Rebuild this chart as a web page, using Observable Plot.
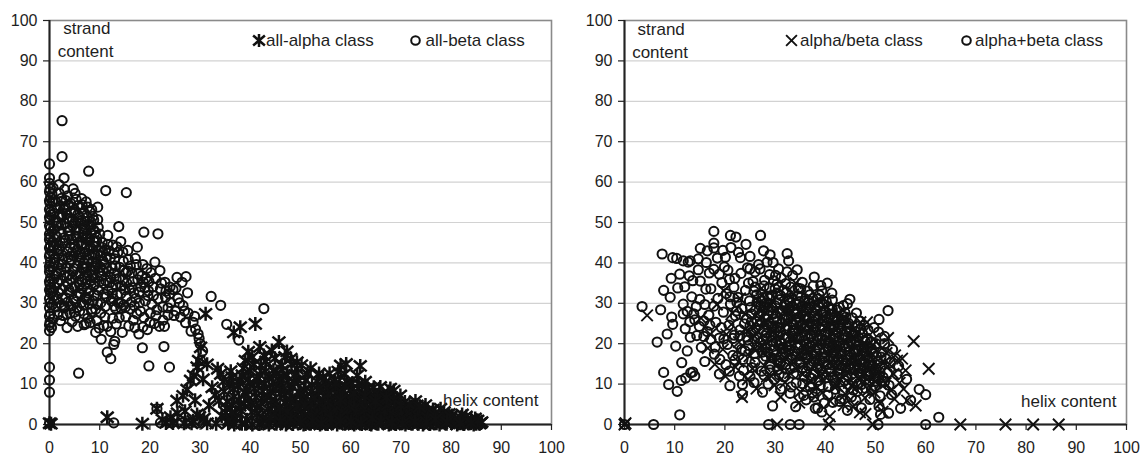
<!DOCTYPE html>
<html>
<head>
<meta charset="utf-8">
<script src="https://cdn.jsdelivr.net/npm/d3@7"></script>
<script src="https://cdn.jsdelivr.net/npm/@observablehq/plot@0.6"></script>
<style>
  html, body { margin: 0; padding: 0; background: #fff; }
  #wrap { display: flex; width: 1142px; height: 456px; }
  #wrap svg { display: block; }
</style>
</head>
<body>
<div id="wrap"></div>
<script>
// ---------- tick labels ----------
const xTicks = [0, 10, 20, 30, 40, 50, 60, 70, 80, 90, 100];
const yTicks = [0, 10, 20, 30, 40, 50, 60, 70, 80, 90, 100];

// ---------- text ----------
const yTitle = ["strand", "content"];
const xTitle = "helix content";
const leftLegend = ["all-alpha class", "all-beta class"];
const rightLegend = ["alpha/beta class", "alpha+beta class"];

// ---------- left panel: all-alpha class (helix %, strand %) ----------
const allAlpha = [
[0,0.3],[0.3,0.2],[11.5,1.8],[18.5,0.2],[21.4,3.9],[24.1,1.8],[24.6,0.4],[25.4,5.9],[26.6,7.1],[28.1,10.9],
[28.7,12.1],[29.4,14.2],[29.7,15.8],[30.1,19.1],[29.4,2.5],[29.9,1.9],[31.1,27.4],[32.4,9.2],[34.1,12.5],[36.4,11.7],
[36.7,22.8],[38.0,24.1],[41.0,24.9],[39.0,15.8],[40.4,16.7],[42.7,17.1],[45.7,20.4],[47.3,18.1],[46.3,14.6],[49.3,15.4],
[49.3,13.8],[58.0,14.6],[61.3,12.1],[59.3,10.5],[55.0,10.5],[66.3,7.6],[68.6,8.4],[73.2,4.7],[71.3,3.5],[77.5,1.8],
[80.2,2.2],[84.0,1.3],[85.9,0.4],[35.1,3.0],[26.8,0.3],[28.3,0.3],[31.4,0.3],[33.2,0.2],[35.6,0.3],
[34.8,8.2],[35.4,5.7],[35.2,4.0],[36.8,6.9],[37.5,9.6],[38.2,3.4],[38.9,7.8],[39.6,11.2],[40.1,5.1],[40.8,8.9],
[41.4,2.6],[41.9,12.3],[42.3,6.4],[42.9,10.1],[43.5,3.8],[44.0,8.1],[44.6,13.4],[45.1,5.7],[45.7,10.8],[46.2,2.9],
[46.8,7.4],[47.3,12.2],[47.9,4.6],[48.4,9.3],[49.0,6.1],[49.6,11.0],[50.1,3.2],[50.7,8.6],[37.1,1.5],[39.3,1.2],
[42.6,1.7],[44.8,1.1],[47.4,1.6],[36.1,13.2],[38.6,13.9],[40.7,14.8],[43.1,15.6],[44.9,16.4],[41.6,9.7],[39.9,10.2],
[46.1,9.1],[48.7,10.4],[43.7,11.7],[37.9,11.0],
[51.2,6.9],[51.8,4.3],[52.3,9.8],[52.9,2.7],[53.4,7.3],[54.0,5.1],[54.5,11.8],[55.1,3.6],[55.6,8.1],[56.2,6.0],
[56.7,2.1],[57.3,9.2],[57.8,4.8],[58.4,7.0],[58.9,3.0],[59.5,5.9],[60.0,8.6],[60.6,2.4],[61.1,6.7],[61.7,4.1],
[62.2,9.7],[62.8,3.3],[63.3,6.2],[63.9,1.8],[64.4,5.4],[65.0,3.1],[65.5,7.2],[66.1,2.5],[66.6,4.6],[67.2,1.4],
[67.7,5.8],[68.3,3.0],[68.8,1.2],[69.4,4.4],[70.0,2.1],[51.5,1.2],[53.1,0.8],[54.8,1.5],[56.4,0.9],[58.1,1.4],
[59.7,0.7],[61.4,1.2],[63.0,0.6],[64.7,1.1],[66.3,0.5],[52.6,5.5],[54.3,2.9],[55.9,4.2],[57.5,2.6],[59.2,4.0],
[60.8,5.1],[62.5,2.2],[64.1,3.6],[65.8,2.0],[53.7,12.6],[56.9,11.0],[60.3,10.2],[63.6,8.3],[50.2,14.7],[48.1,16.3],
[52.0,13.9],[58.8,12.5],[62.0,7.1],[57.0,7.8],[55.3,9.6],
[70.6,3.3],[71.3,1.5],[71.9,0.6],[72.5,2.8],[73.1,1.1],[73.8,3.6],[74.4,0.8],[75.0,2.4],[75.6,1.3],[76.3,0.5],
[76.9,2.9],[77.5,1.0],[78.1,2.0],[78.8,0.6],[79.4,1.5],[80.0,0.4],[80.6,1.2],[81.3,0.3],[81.9,1.7],[82.5,0.6],
[83.1,1.1],[83.8,0.3],[84.4,0.7],[85.0,0.2],[72.0,4.3],[74.9,4.8],[76.4,3.7],[78.6,3.1],[69.2,6.5],[67.4,7.8],[70.8,5.6],
[36.8,0],[38.3,0.2],[40.4,0],[41.8,0.1],[43.7,0],[45.2,0.2],[47.1,0],[48.5,0.1],[50.6,0],[52.0,0.2],
[53.9,0],[55.4,0.1],[57.3,0],[58.8,0.2],[60.7,0],[62.2,0.1],[64.1,0],[65.5,0.2],[67.6,0],[69.0,0.1],
[70.9,0],[72.3,0.2],[74.4,0],[75.8,0.1],[77.7,0],[79.1,0.2],[81.2,0],[82.6,0.1],[84.5,0],[85.7,0.2],
[44.3,4.7],[45.6,2.2],[46.9,5.3],[47.7,0.9],[48.2,3.6],[49.4,1.7],[49.9,5.0],[50.8,2.3],[51.3,0.5],[51.9,3.0],
[52.4,1.6],[53.0,4.2],[53.5,0.4],[54.1,3.4],[54.6,5.8],[55.2,1.9],[55.7,0.6],[56.0,3.3],[56.6,5.1],[57.1,1.2],
[57.6,3.9],[58.2,0.5],[58.6,2.3],[59.1,5.4],[59.6,1.8],[60.2,3.6],[60.4,0.3],[61.0,1.5],[61.5,4.6],[62.0,0.9],
[62.4,3.0],[63.0,5.0],[63.5,2.6],[64.0,0.4],[64.5,2.1],[65.1,4.3],[65.6,1.0],[66.0,3.4],[66.7,5.5],[67.0,2.2],
[67.5,0.6],[68.1,3.9],[68.5,1.8],[69.1,2.9],[69.6,0.5],[70.2,3.9],[70.5,1.2],[71.0,2.4],[71.6,0.4],[72.2,1.9],
[60.9,6.9],[58.5,8.3],[54.9,6.8],[52.1,8.1],[63.9,7.0],[66.9,6.3],[59.9,6.2],[56.8,9.4],[53.3,10.7],[51.0,10.9],
[50.4,6.1],[62.9,10.6],[61.9,14.5],[59.1,15.0],[64.6,9.2],[57.5,13.1],[55.8,12.6],[67.9,8.9],[69.9,7.2],[72.9,5.8],
[74.1,2.0],[75.3,3.4],[76.1,1.7],[77.1,0.3],[77.9,3.9],[79.6,2.6],[80.8,0.8],[82.2,2.5],[83.4,0.4],[84.8,1.5],
[86.1,0.6],[73.5,0.2],[68.0,0.2],[63.8,0.1],[59.0,0.3],[55.0,0.2],[51.0,0.1],[46.3,0.3],[42.2,0.3],[39.0,0.2],
[33.8,5.9],[34.3,2.1],[35.9,10.1],[36.3,4.8],[37.0,2.9],[37.7,6.0],[38.8,5.2],[39.4,8.6],[40.3,3.1],[41.1,6.8],
[41.3,11.1],[42.0,4.5],[42.5,8.2],[43.2,1.2],[43.0,13.1],[44.2,6.0],[44.5,10.5],[45.4,3.9],[45.2,12.6],[45.9,7.6],
[46.5,11.8],[47.1,5.4],[47.8,8.0],[48.3,2.0],[48.9,12.3],[38.4,12.2],[36.6,8.8],[35.7,1.1],[34.6,10.6],[40.0,13.3],
[42.1,14.7],[46.9,16.7],[44.3,18.3],[48.2,14.9],[41.9,19.2],[39.6,18.0],[33.5,13.8],[31.4,14.9],[30.6,11.2],[31.8,4.7],
[33.0,7.3],[27.4,8.6],[29.0,6.0],[27.0,3.3],[25.5,2.8],[28.6,0.9],[30.8,1.5],[23.2,0.4],[22.5,1.2],
[44.9,2.8],[45.9,4.1],[46.5,1.4],[47.4,3.2],[48.0,5.6],[48.8,0.7],[49.3,4.4],[50.3,1.3],[50.9,4.8],[51.6,2.2],
[52.2,5.0],[52.7,0.6],[53.3,2.2],[53.8,5.4],[54.4,1.2],[54.9,3.8],[55.5,5.6],[55.9,2.1],[56.3,0.3],[56.9,3.9],
[57.4,1.7],[57.9,5.7],[58.3,3.2],[58.8,1.0],[59.3,3.4],[59.8,4.9],[60.3,1.1],[60.7,4.2],[61.2,2.9],[61.6,0.6],
[62.1,5.4],[62.6,1.6],[63.1,3.8],[63.6,0.9],[64.2,4.6],[64.6,2.8],[65.2,0.6],[65.7,5.1],[66.2,1.6],[66.8,3.0],
[67.3,4.8],[67.8,1.2],[68.4,2.6],[68.9,4.9],[69.5,1.5],[70.1,3.1],[70.7,0.8],[71.4,2.9],[72.0,1.3],[72.7,3.7],
[73.4,2.1],[74.0,0.6],[74.7,3.1],[75.4,1.7],[76.7,2.3],[78.3,1.4],[79.9,2.0],[81.6,1.0],[83.0,2.0],[85.3,1.0],
[45.0,8.7],[47.6,9.8],[50.0,7.6],[52.8,6.6],[55.4,7.5],[58.0,6.1],[60.6,7.7],[63.2,8.8],[65.3,6.3],[68.7,6.0],
[43.4,6.8],[41.4,4.3],[39.6,6.3],[37.9,4.6],[36.3,2.9],[46.4,13.4],[51.4,12.5],[54.0,9.0],[61.6,10.0],[65.9,9.3],
[49.6,8.1],[53.6,8.7],[57.0,10.2],[58.9,9.6],[62.8,7.0],[64.9,5.8],[67.1,6.7],[70.0,4.8],[71.7,5.0],[73.7,4.4],
[44.0,1.7],[46.0,0.8],[48.0,1.4],[50.0,0.5],[52.4,0.9],[54.2,0.3],[56.1,1.5],[58.0,0.9],[60.1,0.8],[62.1,0.3],
[64.3,1.5],[66.0,0.8],[68.2,0.5],[70.3,0.3],[72.8,0.7],[75.1,0.6],[76.9,1.3],[79.2,0.6],[81.8,0.3],[84.0,0.4]
];

// ---------- left panel: all-beta class ----------
const allBeta = [
[0,23.2],[0,24.6],[0.1,25.3],[0,26.8],[0.2,27.4],[0,28.9],[0.1,30.1],[0,31.2],[0.2,32.6],[0,33.3],
[0.1,34.7],[0,35.4],[0.2,36.2],[0,37.8],[0.1,38.4],[0,39.1],[0.2,40.3],[0,41.6],[0.1,42.2],[0,43.7],
[0.2,44.3],[0,45.8],[0.1,46.4],[0,47.1],[0.2,48.6],[0,49.2],[0.1,50.7],[0,51.3],[0.2,52.6],[0,53.2],
[0.1,54.8],[0,55.4],[0.2,56.1],[0,57.6],[0.1,58.3],[0,59.7],[0,61.0],[0,64.5],[0,14.2],[0,11.0],[0,8.0],[0,0.3],
[2.5,75.2],[2.5,66.3],[2.9,61.0],[7.8,62.7],[1.9,59.4],[4.7,58.3],[11.2,57.9],[15.3,57.4],[3.6,56.6],[5.1,57.2],
[6.4,55.9],[7.3,55.1],[9.6,53.8],[8.4,53.2],
[1.2,55.2],[2.1,54.1],[2.8,53.4],[3.4,52.2],[4.2,54.8],[4.9,53.1],[5.6,51.9],[6.2,53.6],[6.9,52.4],[7.5,51.3],
[8.1,52.7],[8.8,50.6],[9.6,50.7],[2.4,51.3],[3.1,49.7],[3.9,50.8],[4.6,49.2],[5.3,48.1],[6.1,49.8],[6.8,48.4],
[7.4,47.2],[8.2,48.9],[9.1,47.6],[1.5,49.1],[2.2,47.6],[2.9,46.2],[3.7,47.9],[4.4,45.8],[5.2,46.7],[5.9,45.1],
[6.6,46.3],[7.3,44.6],[8.0,45.9],[8.7,44.2],[9.4,45.4],[1.3,44.7],[2.0,43.5],[2.7,44.9],[3.5,42.8],[4.1,43.9],
[4.8,41.7],[5.5,43.2],[6.3,41.4],[7.0,42.6],[7.8,40.8],[8.5,42.1],[9.3,40.3],[10.1,41.8],[1.1,41.2],[1.9,39.6],
[2.6,40.8],[3.3,38.7],[4.0,39.9],[4.7,37.9],[5.4,39.2],[6.1,37.4],[6.8,38.6],[7.6,36.8],[8.3,38.1],[9.0,36.2],
[9.8,37.7],[1.4,37.3],[2.2,35.8],[2.9,36.9],[3.6,34.9],[4.3,35.9],[5.0,34.1],[5.8,35.3],[6.5,33.6],[7.2,34.8],
[8.0,33.1],[8.8,34.4],[1.0,34.0],[1.8,32.6],[2.5,33.5],[3.2,31.4],[4.0,32.7],[4.8,30.9],[5.6,31.8],[6.4,30.2],
[7.1,31.5],[7.9,29.8],[8.7,30.6],[9.5,31.9],[2.0,30.1],[3.0,29.2],[2.9,28.8],[1.7,27.2],[4.1,27.6],[5.2,26.8],
[6.0,28.1],[6.9,27.4],[7.6,26.3],[8.4,27.9],[9.2,28.5],
[2.2,25.7],[3.5,24.0],[4.5,25.4],[5.6,24.3],[6.9,24.7],[8.1,25.2],[9.5,25.7],[9.2,22.8],[10.8,24.5],[11.5,24.3],
[12.2,23.0],[13.3,24.9],[14.5,22.8],[15.8,24.4],[16.7,25.8],[17.8,22.4],[18.6,24.1],[19.5,23.5],[10.3,21.1],[13.0,20.6],
[18.5,19.0],[19.8,14.5],[22.8,19.3],[23.9,14.2],[11.5,17.9],[12.2,16.3],[12.8,19.8],[5.8,12.7],
[10.5,45.1],[11.1,43.2],[11.6,46.8],[12.1,41.2],[12.6,44.4],[13.1,39.3],[13.6,42.6],[13.8,49.0],[14.2,45.3],[14.7,40.4],
[15.2,37.6],[15.6,43.1],[16.1,39.2],[16.6,35.4],[17.1,41.1],[17.5,43.9],[17.7,37.3],[18.2,34.1],[18.8,47.6],[18.6,39.6],
[19.2,36.2],[19.7,33.1],[20.2,37.6],[10.6,38.1],[11.2,35.6],[11.7,33.2],[12.2,36.4],[12.7,31.1],[13.2,34.6],[13.7,30.2],
[14.2,32.4],[14.8,29.6],[15.3,31.7],[10.2,30.1],[11.1,29.2],[12.3,30.6],[13.2,28.7],[14.1,30.1],[16.1,28.6],[17.2,31.2],
[18.1,28.1],[19.1,30.6],[20.1,27.6],[9.7,33.3],[10.9,39.7],[12.9,37.4],[15.9,33.5],[17.6,35.8],[19.4,38.6],[16.3,30.3],[14.6,35.8],
[20.6,34.1],[21.1,36.2],[21.6,31.1],[21.6,47.2],[22.1,33.6],[22.6,29.1],[23.1,31.5],[23.6,27.1],[24.1,30.2],[24.6,33.4],
[25.1,28.1],[25.6,31.2],[26.1,26.6],[26.6,29.4],[27.1,25.2],[27.6,27.6],[28.6,25.3],[29.1,23.6],[29.6,22.4],[30.0,20.0],
[30.1,15.8],[25.4,36.4],[27.2,36.6],[26.4,35.2],[27.5,32.6],[24.0,34.0],[23.0,35.2],[22.0,38.1],[21.0,40.2],[32.2,31.7],
[34.1,29.5],[35.3,24.8],[37.7,20.9],[42.7,28.7],[30.5,18.2],[29.8,21.3],[28.2,23.1],[24.8,27.0],[22.6,25.8],[21.2,26.9],[20.4,29.8],
[21.4,3.9],[12.8,0.4],[22.1,0.4],[24.4,0.4],[26.4,0.4],[29.5,0.4],
[0.4,24.0],[0.5,29.6],[0.3,33.9],[0.6,38.9],[0.4,42.9],[0.5,47.8],[0.3,51.9],[0.6,55.1],[0.5,57.0],[0.7,26.1],
[0.8,31.8],[0.9,36.0],[1.0,40.0],[0.8,44.0],[1.0,48.4],[0.9,52.2],[0.7,58.6],[1.3,29.1],[1.6,35.1],[1.5,43.0],
[1.4,46.5],[1.2,50.6],[1.6,53.5],[1.9,57.3],[2.4,56.0],[2.3,49.4],[2.1,45.2],[2.4,42.0],[2.3,38.1],[2.6,31.3],
[2.7,27.0],[3.0,58.2],[3.3,55.4],[3.8,54.0],[3.5,51.1],[3.2,45.6],[3.7,41.4],[3.4,36.6],[3.9,33.3],[3.6,30.3],
[4.3,52.4],[4.6,50.6],[4.1,48.0],[4.8,44.6],[4.4,40.8],[4.9,38.6],[4.5,33.9],[4.3,29.3],[5.3,55.7],[5.0,52.6],
[5.7,50.0],[5.4,46.3],[5.1,44.0],[5.8,40.6],[5.3,37.0],[5.9,32.6],[5.5,29.0],[6.5,54.4],[6.0,51.3],[6.7,47.3],
[6.3,44.4],[6.0,42.2],[6.9,39.9],[6.4,35.9],[6.2,32.1],[6.8,29.6],[7.6,53.8],[7.1,50.2],[7.8,49.5],[7.3,45.8],
[7.9,43.2],[7.5,39.1],[7.2,37.7],[7.8,32.5],[7.4,30.9],[8.6,51.5],[8.3,47.2],[8.9,45.2],[8.5,40.3],[8.2,35.6],
[8.9,32.0],[8.4,28.6],[9.7,48.8],[9.4,46.3],[9.8,42.9],[9.1,38.8],[9.9,35.3],[9.6,29.9],[10.4,43.9],[10.7,40.4],
[10.3,36.7],[10.9,32.3],[10.2,27.6],[11.6,44.6],[11.4,41.5],[11.8,37.9],[11.3,31.6],[12.8,42.3],[12.5,38.7],[12.4,33.9],
[12.9,29.3],[13.4,44.0],[13.9,36.2],[13.5,32.0],[14.6,42.7],[14.9,38.2],[14.4,34.3],[15.7,40.8],[15.4,35.0],[15.1,29.0],
[16.4,37.5],[16.8,32.6],[17.3,39.6],[17.9,32.8],[18.4,36.8],[19.0,33.8],[19.8,35.4],[20.7,31.9],[18.8,26.5],[17.4,27.4],
[15.2,26.7],[12.6,26.3],[11.0,26.6],[20.9,25.0],[22.9,24.3],[23.6,28.9],[25.9,30.1],[26.9,28.1],[28.9,26.8],[23.2,33.0],
[0.6,45.2],[1.1,47.0],[1.7,50.0],[2.1,52.0],[2.5,55.3],[3.1,53.9],[3.6,48.9],[4.0,46.6],[4.5,42.6],[4.0,37.1],
[3.1,34.2],[2.5,39.6],[1.7,42.2],[1.2,36.8],[0.6,32.9],[1.5,31.0],[2.4,29.6],[3.4,27.3],[5.0,49.8],[5.6,54.2],
[6.3,50.5],[6.6,44.5],[5.7,41.7],[6.5,39.0],[6.0,34.5],[5.2,30.4],[7.1,48.9],[7.5,46.3],[7.9,41.9],[7.0,36.2],
[7.5,33.7],[8.3,50.1],[8.8,48.2],[8.1,43.8],[8.9,39.2],[8.5,37.1],[9.3,44.0],[9.0,42.0],[9.5,39.4],[9.1,34.8],
[10.0,47.1],[10.6,42.6],[10.1,39.0],[10.8,34.9],[11.3,38.8],[11.9,43.0],[12.0,35.1],[12.5,32.4],[13.0,41.0],[13.3,36.0],
[14.0,38.9],[14.2,28.9],[15.0,33.3],[15.6,38.0],[16.4,33.9],[16.9,29.4],[17.9,30.1],[18.7,35.2],[19.6,31.9],[21.4,28.4],
[22.3,35.0],[23.9,32.3],[25.2,33.8],[21.9,24.3],[20.0,25.3],[17.0,24.0],[13.9,26.4],[9.9,23.9],[7.3,25.0],[4.9,27.8]
];

// ---------- right panel: alpha/beta class ----------
const alphaBeta = [
[0,0],[0.2,0.3],[4.5,27.0],[20.1,11.9],[23.4,6.8],[22.1,14.2],[22.7,15.5],[27.9,14.5],[29.2,12.0],[30.4,0],
[31.1,6.8],[34.1,35.0],[37.0,10.9],[38.4,9.2],[40.7,0],[40.9,2.0],[48.0,2.6],[48.3,25.3],[47.0,25.3],[49.7,21.2],
[57.6,20.6],[53.9,17.1],[54.3,15.8],[55.3,16.3],[53.6,12.5],[60.6,13.8],[56.3,5.9],[58.0,4.7],[49.5,0],[66.9,0],
[75.9,0],[81.4,0],[86.5,0],
[15.2,26.4],[17.1,22.3],[18.4,29.7],[19.6,18.6],[21.3,24.8],[22.8,20.4],[24.1,27.3],[24.9,16.9],[25.7,22.1],[26.5,30.8],
[27.2,19.4],[28.0,25.6],[28.8,16.2],[29.6,22.9],[30.3,28.4],[31.0,13.8],[31.8,19.6],[32.5,25.1],[33.3,15.7],[34.0,21.3],
[34.8,27.9],[35.5,12.4],[36.3,18.1],[37.0,23.7],[37.8,14.6],[38.5,20.2],[39.3,26.3],[40.0,11.8],[40.8,17.4],[41.5,22.6],
[42.3,9.6],[43.0,15.3],[43.8,20.8],[44.5,12.7],[45.3,18.5],[46.0,8.9],[46.8,14.2],[47.5,19.7],[48.3,11.3],[49.0,16.6],
[49.8,7.9],[50.5,13.1],[51.3,18.9],[52.0,10.2],[52.8,14.9],[32.0,10.4],[35.0,8.1],[38.0,6.9],[41.0,5.8],[44.0,7.5],
[45.5,4.4],[33.6,32.2],[36.6,29.6],[39.8,31.1],[42.6,27.4],[45.1,24.6],[27.3,33.7],[24.6,11.2],[26.3,8.9],[29.9,9.7],
[19.8,33.1],[23.0,31.2],[37.4,16.1],[41.9,13.6],[44.7,10.3],[47.9,6.6],[50.9,5.2],
[18.0,14.9],[21.5,27.6],[24.0,23.6],[25.5,13.8],[26.9,26.1],[28.4,11.9],[29.4,30.4],[30.7,18.0],[32.1,22.5],[33.0,12.7],
[34.6,17.1],[35.9,25.3],[36.9,13.2],[37.9,28.8],[38.9,12.0],[39.9,24.0],[40.9,15.4],[42.0,20.2],[42.9,11.2],[43.9,24.6],
[44.8,15.9],[45.7,21.4],[46.5,11.4],[47.4,16.9],[48.6,8.6],[49.3,19.5],[50.0,10.6],[51.7,15.3],[52.5,21.4],[53.1,8.4],
[54.8,10.3],[56.0,13.4],[51.4,3.2],[46.9,3.0],[43.7,4.8],[39.4,7.9],[34.8,5.4],[31.8,15.8],[27.7,17.6],[22.5,18.4],
[20.3,22.3],[16.6,18.9],
[25.9,18.7],[27.6,29.1],[29.1,23.7],[30.5,14.9],[31.9,27.5],[33.4,19.4],[34.2,13.9],[35.3,23.2],[36.4,9.7],[37.3,18.6],
[38.7,25.7],[39.7,14.0],[40.6,21.2],[41.8,9.3],[42.6,18.0],[43.4,26.1],[44.3,14.1],[45.2,9.5],[46.3,22.7],[47.1,13.5],
[48.8,17.9],[49.8,13.9],[51.0,10.1],[52.2,17.7],[53.8,6.3],[55.6,8.8],[45.9,16.7],[41.3,18.6],[36.0,15.1],[32.9,17.3]
];

// ---------- right panel: alpha+beta class ----------
const alphaPlusBeta = [
[3.5,29.2],[6.5,20.4],[7.5,42.2],[7.8,33.2],[9.1,31.5],[7.2,28.4],[9.4,26.6],[9.6,24.8],[7.8,12.9],[8.8,9.9],
[10.5,8.2],[11.3,10.9],[12.2,11.5],[13.2,12.8],[11.0,2.4],[5.8,0],[0,0],[10.6,33.8],[12.0,34.1],[11.7,29.8],
[11.7,27.4],[12.5,28.0],[12.5,18.2],[13.1,21.6],[13.6,13.0],[14.0,12.0],[9.6,41.3],[10.4,41.1],[11.7,40.5],[12.7,40.2],
[13.1,40.5],[14.7,41.0],[15.1,43.6],[17.8,47.8],[17.8,44.9],[17.8,43.7],[21.1,46.8],[22.2,46.4],[27.1,46.8],[22.7,42.6],
[25.0,41.6],[27.7,43.0],[29.0,42.0],[32.4,42.3],[32.7,40.5],[40.4,35.0],[44.4,29.9],[52.5,28.2],[51.8,21.8],[51.8,20.0],
[60.0,7.4],[57.0,6.0],[62.6,1.8],[60.0,0],[52.6,2.8],[50.7,4.5],[51.0,2.5],[50.5,0],[33.0,0],[34.8,0],
[28.7,0],[39.8,5.3],[38.5,4.1],[35.7,7.2],[37.7,6.8],[33.0,7.7],[45.6,8.5],[48.0,9.0],[50.0,9.5],[52.7,9.7],
[27.5,8.0],[28.6,10.0],[29.8,11.2],[30.8,12.3],[23.5,9.9],[23.5,7.5],[20.9,13.2],[22.9,12.0],[17.9,17.4],[19.0,16.1],
[20.2,14.8],[15.8,25.6],[16.5,23.0],[17.2,21.1],[18.1,19.2],[15.1,35.5],[16.9,37.5],[17.8,38.4],[18.9,37.2],[19.9,39.0],
[30.4,34.8],[36.0,31.1],[28.0,22.0],[28.5,18.0],[38.0,4.0],[40.5,7.3],[41.5,5.5],[13.4,31.6],[14.3,29.2],[14.0,25.9],[12.1,23.7],
[17.2,33.6],[18.6,31.2],[19.4,35.1],[20.3,32.4],[21.1,29.8],[21.8,34.0],[22.6,31.5],[23.4,28.7],[24.1,33.2],[24.9,30.6],
[25.6,35.4],[26.3,32.1],[27.1,29.4],[27.8,34.3],[28.5,31.8],[29.3,29.1],[30.0,33.6],[30.8,30.9],[31.5,28.2],[32.3,32.7],
[33.0,30.1],[33.8,27.5],[34.5,31.9],[35.3,29.2],[36.1,26.8],[26.0,37.8],[28.9,37.1],[31.2,36.3],[23.2,37.4],[20.6,38.2],
[16.8,27.1],[18.2,25.3],[19.7,27.8],[20.8,24.6],[22.1,26.9],[23.0,23.4],[24.3,26.2],[25.2,22.7],[26.4,25.5],[27.4,27.9],
[28.3,24.8],[29.2,21.9],[30.1,26.7],[30.9,23.9],[31.8,21.3],[32.6,26.0],[33.5,23.2],[34.3,27.4],[35.1,24.6],[36.0,22.0],
[36.8,26.3],[37.6,23.5],[38.5,21.1],[39.3,25.6],[40.1,22.8],[41.0,27.3],[41.8,24.2],[42.7,21.6],[43.5,25.9],[44.3,23.0],
[45.2,20.6],[38.2,28.6],[40.6,29.2],[42.4,28.3],[37.1,29.9],
[18.9,21.4],[20.5,19.8],[21.9,22.1],[23.3,18.6],[24.6,20.9],[25.9,17.6],[27.0,20.3],[28.1,16.9],[29.1,19.5],[30.2,17.2],
[31.3,20.0],[32.1,17.8],[33.0,20.6],[33.9,18.1],[34.8,21.4],[35.7,18.6],[36.5,16.3],[37.4,20.2],[38.3,17.5],[39.2,19.9],
[40.0,16.8],[40.9,20.5],[41.8,17.9],[42.6,15.9],[43.5,19.6],[44.4,17.1],[45.2,15.2],[46.1,18.4],[47.0,16.0],[47.8,19.2],
[48.7,14.8],[49.6,17.5],[50.4,15.6],[51.3,17.9],
[25.4,14.1],[27.3,13.2],[29.0,15.0],[30.6,13.6],[32.2,14.8],[33.7,12.6],[35.0,15.5],[36.2,13.1],[37.3,11.4],[38.4,14.3],
[39.5,12.2],[40.6,14.9],[41.6,11.6],[42.7,13.4],[43.8,10.9],[44.9,13.8],[45.9,11.5],[46.9,13.9],[47.9,11.1],[48.9,13.2],
[49.9,11.8],[50.9,12.9],[51.8,10.6],[39.0,9.6],[42.0,8.7],[44.6,9.9],[34.2,10.3],[36.9,9.4],[46.4,8.2],[49.2,8.6],
[29.6,27.3],[31.4,25.1],[32.9,28.8],[34.1,25.9],[35.6,27.9],[36.4,24.4],[37.9,26.8],[39.0,23.6],[40.4,25.1],[41.3,19.1],
[42.2,22.8],[43.1,17.6],[44.0,21.4],[38.8,18.5],[37.0,19.4],[35.3,16.9],[33.4,16.2],[31.6,18.8],[30.6,15.7],[39.7,15.3],
[41.7,16.2],[44.7,19.2],[46.6,21.6],[48.3,21.1],[46.5,24.3],[43.3,27.0],[39.6,28.1],[36.9,32.1],[34.6,33.7],[32.1,34.9],
[29.4,32.0],[27.3,30.6],[26.1,28.3],[25.3,25.5],[27.7,23.3],[30.4,24.2],[33.7,24.8],[36.6,21.2],[39.9,20.9],[42.9,24.9],
[45.6,22.3],[47.5,17.6],[28.7,28.2],[31.1,31.9],[33.4,29.3],[35.8,30.5],[38.3,31.1],
[13.8,27.4],[15.0,31.0],[14.4,22.0],[15.3,19.1],[16.2,33.5],[16.0,29.7],[14.7,38.3],[16.3,40.1],[18.5,41.2],[19.6,43.1],
[21.2,43.8],[23.1,41.3],[24.5,38.8],[26.7,39.6],[28.4,40.2],[30.7,38.5],[33.5,36.9],[35.4,35.2],[37.6,34.3],[39.3,33.1],
[41.4,30.8],[43.6,29.4],
[22.4,30.2],[23.9,24.9],[24.4,21.6],[25.1,29.0],[25.8,33.0],[26.2,23.9],[26.8,19.1],[27.5,31.4],[28.0,26.4],[28.3,21.2],
[28.9,33.8],[29.4,24.3],[29.8,18.4],[30.3,30.1],[30.6,21.9],[31.0,27.9],[31.2,16.6],[31.7,33.2],[32.0,23.6],[32.4,19.2],
[32.8,30.6],[33.2,26.7],[33.6,21.9],[33.9,14.2],[34.2,29.9],[34.5,19.7],[34.9,25.6],[35.2,31.6],[35.5,22.8],[35.9,17.6],
[36.2,28.7],[36.6,14.5],[36.9,25.1],[37.2,21.8],[37.5,31.2],[37.8,17.0],[38.1,24.4],[38.6,29.5],[38.9,15.9],[39.2,22.1],
[39.5,27.1],[39.8,18.0],[40.2,30.4],[40.5,20.1],[40.8,24.3],[41.1,13.1],[41.4,28.5],[41.7,21.3],[42.0,18.4],[42.3,26.2],
[42.6,12.7],[42.9,20.0],[43.2,23.6],[43.5,14.6],[43.9,27.7],[44.2,16.0],[44.6,25.1],[44.9,20.7],[45.3,12.4],[45.7,17.7],
[46.0,23.0],[46.3,14.9],[46.7,19.6],[47.1,12.6],[47.4,22.6],[47.8,15.3],[48.2,18.0],[48.6,12.0],[49.0,20.4],[49.4,14.4],
[49.8,10.7],[50.2,17.0],[50.6,22.9],[51.0,14.1],[51.5,11.7],[52.1,16.3],[33.1,34.0],[35.1,33.6],[37.4,27.6],[39.1,34.4],
[30.1,36.9],[27.9,35.7],[25.0,38.5],[22.0,36.2],[20.9,35.9],[19.3,24.0],[21.6,21.3],[23.6,16.1],[26.0,15.4],[27.8,12.2],
[31.7,11.8],[35.8,11.9],[38.7,10.9],[41.9,10.2],[43.4,8.4],[47.2,9.9],[30.0,29.4],[32.6,28.4],[34.7,23.3],[36.3,20.1],
[38.0,22.9],[40.0,26.6],[41.5,25.8],[43.8,22.2],[45.4,26.4],[46.9,25.6],[48.5,23.3],[49.7,24.0],[26.6,21.4],[24.0,18.2],
[21.6,17.1],[19.8,21.2],[17.0,24.6],[17.8,29.3],[14.9,24.3],[15.8,21.8],[13.0,25.4],[13.6,35.6],[11.0,37.2],[9.3,36.2],
[8.5,22.4],[10.2,19.4],[11.4,15.3],[16.0,15.6],[18.9,12.5],[21.0,9.6],[25.8,10.4],[31.1,8.8],[36.2,6.1],[39.3,3.1],
[42.9,5.7],[45.2,6.8],[47.2,4.1],[48.9,6.2],[53.2,7.4],[54.3,12.4],[53.4,18.6],[50.7,26.0],[44.9,31.0],[41.3,32.5],
[37.8,36.5],[34.4,38.3],[29.6,40.1],[24.2,44.6],[20.1,41.4],[16.5,43.0],[12.9,36.8],[29.5,4.6],[34.1,4.4],[44.4,3.5],
[55.0,4.0],[56.2,11.2],[58.7,8.7],
[24.7,19.6],[25.3,27.4],[25.9,21.2],[26.4,30.3],[26.9,24.6],[27.4,17.9],[27.9,28.9],[28.4,22.6],[28.8,31.2],[29.3,16.5],
[29.7,26.1],[30.2,20.4],[30.6,32.3],[31.1,23.0],[31.5,17.5],[31.9,29.6],[32.4,24.4],[32.8,18.3],[33.3,31.4],[33.7,22.5],
[34.1,16.8],[34.6,26.5],[35.0,19.8],[35.4,29.0],[35.8,24.1],[36.3,17.3],[36.7,30.6],[37.1,22.4],[37.6,15.6],[38.0,26.0],
[38.4,19.1],[38.8,32.0],[39.3,21.0],[39.7,16.4],[40.1,27.9],[40.6,18.6],[41.0,23.5],[41.4,14.7],[41.9,26.6],[42.3,19.4],
[42.7,24.1],[43.2,16.9],[43.6,21.0],[44.0,13.9],[44.5,24.0],[44.9,18.1],[45.3,22.0],[45.8,14.0],[46.2,20.3],[46.6,16.6],
[47.1,23.6],[47.5,13.7],[47.9,20.6],[48.4,16.5],[48.8,10.9],[49.2,18.8],[49.7,13.2],[50.1,20.0],[50.6,11.3],[51.1,16.7],
[25.6,23.0],[26.7,26.9],[27.6,20.8],[28.6,27.0],[29.5,20.7],[30.4,25.6],[31.3,19.0],[32.2,27.1],[33.1,19.5],[34.0,23.5],
[34.9,15.3],[35.8,26.0],[36.7,19.0],[37.6,24.9],[38.5,15.0],[39.4,29.9],[40.3,19.4],[41.2,24.9],[42.1,16.9],[43.0,25.4],
[43.9,19.0],[44.8,23.2],[45.7,16.3],[46.6,18.5],[47.5,21.4],[48.4,19.0],[49.3,16.0],[50.2,13.7],[26.0,34.0],[28.2,30.0],
[30.7,34.0],[32.5,31.0],[34.8,30.4],[36.5,33.0],[38.9,30.2],[40.9,28.6],[42.8,29.0],[44.1,26.6],[46.2,27.6],[47.7,24.5],
[29.0,13.5],[31.0,15.0],[33.0,13.7],[35.4,14.0],[37.8,12.4],[40.2,11.6],[42.4,11.8],[44.3,12.2],[46.7,10.2],[48.2,12.4],
[23.0,22.0],[22.3,28.1],[21.0,31.6],[24.7,35.0],[27.0,38.5],[29.7,35.6],[32.4,37.8],[23.7,13.4],[25.0,11.9],[22.0,16.0],
[33.2,9.3],[35.5,10.1],[37.4,7.9],[40.6,9.4],[43.2,6.3],[46.1,6.0],[50.9,7.1],[52.4,12.8],[53.0,15.3],[54.6,14.5],
[39.6,24.3],[36.2,26.1],[33.9,28.3],[31.9,26.1],[29.9,22.9],[28.1,18.8],[30.9,20.6],[34.3,21.2],[38.1,18.3],[41.6,22.3],
[44.4,20.1],[47.3,18.9],[35.6,20.7],[32.6,21.5],[27.3,25.2],[25.0,24.4],[42.8,14.6],[45.0,16.6],[47.9,14.0],[39.0,13.6]
];

// ---------- symbols ----------
const asteriskSym = {
  draw(ctx, size) {
    const r = Math.sqrt(size / Math.PI);
    const a = r * 0.92, b = r * 0.78;
    ctx.moveTo(0, -r); ctx.lineTo(0, r);
    ctx.moveTo(-a, -b); ctx.lineTo(a, b);
    ctx.moveTo(-a, b); ctx.lineTo(a, -b);
  }
};
const timesSym = {
  draw(ctx, size) {
    const r = Math.sqrt(size / Math.PI) * 0.9;
    ctx.moveTo(-r, -r); ctx.lineTo(r, r);
    ctx.moveTo(-r, r); ctx.lineTo(r, -r);
  }
};

const INK = "#111111";
const FONT = "'Liberation Sans', Arial, Helvetica, sans-serif";

const styleFor = (sym) => sym === "circle"
  ? {symbol: "circle", r: 4.6, fill: "none", stroke: INK, strokeWidth: 2}
  : sym === "asterisk"
  ? {symbol: asteriskSym, r: 7, fill: "none", stroke: INK, strokeWidth: 2.5}
  : {symbol: timesSym, r: 6.4, fill: "none", stroke: INK, strokeWidth: 1.9};

function panel({marginLeft, marginRight, seriesA, seriesB, symA, symB, legend, legendPos, yTitlePos, xTitlePos}) {
  return Plot.plot({
    width: 571,
    height: 456,
    marginLeft,
    marginRight,
    marginTop: 20,
    marginBottom: 32,
    x: {domain: [0, 100]},
    y: {domain: [0, 100]},
    style: {fontFamily: FONT, fontSize: "16px", color: "#1e1e1e", background: "white", overflow: "visible"},
    marks: [
      Plot.gridY(yTicks, {stroke: "#d2d2d2", strokeOpacity: 1, strokeWidth: 1.2}),
      Plot.frame({stroke: "#8a8a8a", strokeWidth: 1.6}),
      Plot.axisX(xTicks, {tickSize: 6, tickPadding: 11, label: null, stroke: "#222", strokeWidth: 1.2}),
      Plot.axisY(yTicks, {tickSize: 6, tickPadding: 6, label: null, stroke: "#222", strokeWidth: 1.2}),
      Plot.ruleX([0], {stroke: "#222", strokeWidth: 2}),
      Plot.ruleY([0], {stroke: "#222", strokeWidth: 2}),
      Plot.dot(seriesA, {x: d => d[0], y: d => d[1], ...styleFor(symA)}),
      Plot.dot(seriesB, {x: d => d[0], y: d => d[1], ...styleFor(symB)}),
      // axis titles inside the frame
      Plot.text([yTitle[0]], {frameAnchor: "top-left", dx: yTitlePos[0], dy: yTitlePos[1], text: d => d, textAnchor: "middle", lineAnchor: "middle", fontSize: 17, fill: "#1e1e1e"}),
      Plot.text([yTitle[1]], {frameAnchor: "top-left", dx: yTitlePos[2], dy: yTitlePos[3], text: d => d, textAnchor: "middle", lineAnchor: "middle", fontSize: 17, fill: "#1e1e1e"}),
      Plot.text([xTitle], {frameAnchor: "bottom-right", dx: xTitlePos[0], dy: xTitlePos[1], text: d => d, textAnchor: "end", lineAnchor: "middle", fontSize: 17, fill: "#1e1e1e"}),
      // legend
      Plot.dot([legend[0]], {frameAnchor: "top-left", dx: legendPos[0], dy: 20, ...styleFor(symA), r: symA === "asterisk" ? 6.4 : 6}),
      Plot.text([legend[0]], {frameAnchor: "top-left", dx: legendPos[1], dy: 20, text: d => d, textAnchor: "start", lineAnchor: "middle", fontSize: 17, fill: "#1e1e1e"}),
      Plot.dot([legend[1]], {frameAnchor: "top-left", dx: legendPos[2], dy: 20, ...styleFor(symB), r: 4.3}),
      Plot.text([legend[1]], {frameAnchor: "top-left", dx: legendPos[3], dy: 20, text: d => d, textAnchor: "start", lineAnchor: "middle", fontSize: 17, fill: "#1e1e1e"})
    ]
  });
}

const wrap = document.getElementById("wrap");
wrap.appendChild(panel({
  marginLeft: 49, marginRight: 20,
  seriesA: allAlpha, seriesB: allBeta, symA: "asterisk", symB: "circle",
  legend: leftLegend, legendPos: [209.5, 216.5, 366, 376],
  yTitlePos: [37.3, 8.5, 36, 31],
  xTitlePos: [-13, -24]
}));
wrap.appendChild(panel({
  marginLeft: 53, marginRight: 16,
  seriesA: alphaBeta, seriesB: alphaPlusBeta, symA: "times", symB: "circle",
  legend: rightLegend, legendPos: [167, 175.5, 342, 350.5],
  yTitlePos: [36.7, 9, 35.5, 31.7],
  xTitlePos: [-10, -23]
}));
</script>
</body>
</html>
